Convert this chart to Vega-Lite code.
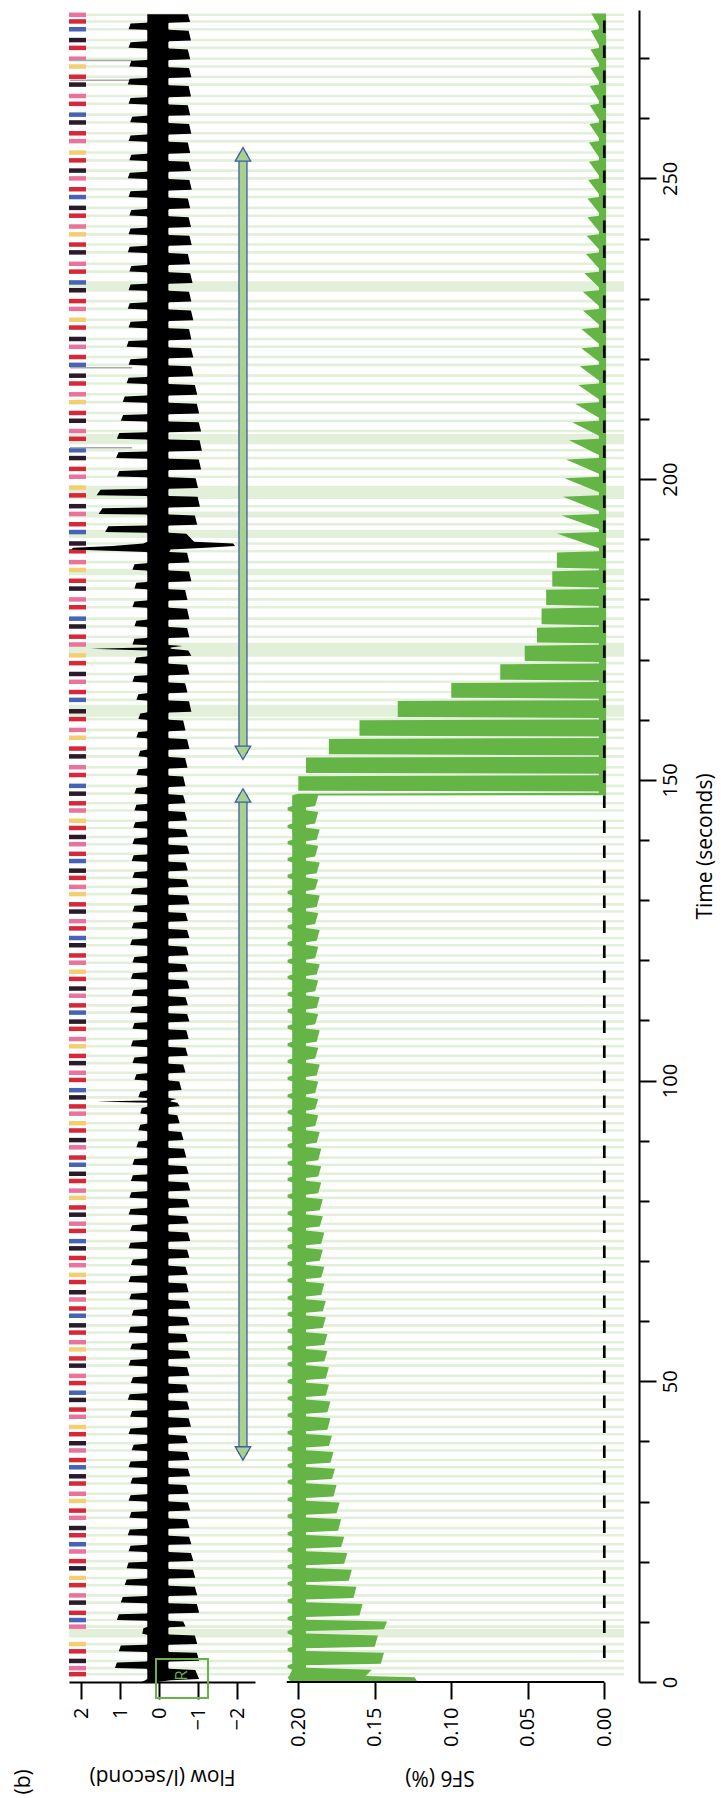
{
"$schema":"https://vega.github.io/schema/vega-lite/v6.json",
"background":"white",
"padding":{"left":13,"top":8,"right":8,"bottom":0},
"spacing":0,
"bounds":"flush",
"config":{"view":{"stroke":null},"font":"Open Sans","axis":{"labelFont":"Open Sans","titleFont":"Open Sans"},"text":{"font":"Open Sans"}},
"datasets":{
"flow":[
{"t":0,"h":0.45,"l":0.05},{"t":0.3,"h":0.35,"l":-0.3},{"t":0.5,"h":0.3,"l":-1.03},{"t":2.0,"h":0.3,"l":-0.93},
{"t":2.2,"h":0.32,"l":-0.26},{"t":2.32,"h":1.13,"l":-0.24},{"t":3.25,"h":1.08,"l":-0.24},{"t":3.4,"h":0.32,"l":-0.26},{"t":3.52,"h":0.3,"l":-1.03},{"t":4.85,"h":0.3,"l":-0.97},
{"t":5.0,"h":0.32,"l":-0.26},{"t":5.12,"h":1.03,"l":-0.24},{"t":6.05,"h":0.98,"l":-0.24},{"t":6.2,"h":0.32,"l":-0.26},{"t":6.32,"h":0.3,"l":-0.98},{"t":7.75,"h":0.3,"l":-0.92},
{"t":7.9,"h":0.32,"l":-0.26},{"t":8.02,"h":0.43,"l":-0.24},{"t":8.95,"h":0.4,"l":-0.24},{"t":9.1,"h":0.32,"l":-0.26},{"t":9.22,"h":0.3,"l":-0.68},{"t":10.05,"h":0.3,"l":-0.62},
{"t":10.2,"h":0.32,"l":-0.26},{"t":10.32,"h":1.08,"l":-0.24},{"t":11.25,"h":1.03,"l":-0.24},{"t":11.4,"h":0.32,"l":-0.26},{"t":11.52,"h":0.3,"l":-1.03},{"t":12.95,"h":0.3,"l":-0.97},
{"t":13.1,"h":0.32,"l":-0.26},{"t":13.22,"h":0.98,"l":-0.24},{"t":14.15,"h":0.93,"l":-0.24},{"t":14.3,"h":0.32,"l":-0.26},{"t":14.42,"h":0.3,"l":-0.98},{"t":15.85,"h":0.3,"l":-0.92},
{"t":16.0,"h":0.32,"l":-0.26},{"t":16.12,"h":0.88,"l":-0.24},{"t":17.05,"h":0.83,"l":-0.24},{"t":17.2,"h":0.32,"l":-0.26},{"t":17.32,"h":0.3,"l":-0.93},{"t":18.65,"h":0.3,"l":-0.87},
{"t":18.8,"h":0.32,"l":-0.26},{"t":18.92,"h":0.83,"l":-0.24},{"t":19.85,"h":0.78,"l":-0.24},{"t":20.0,"h":0.32,"l":-0.26},{"t":20.12,"h":0.3,"l":-0.88},{"t":21.45,"h":0.3,"l":-0.82},
{"t":21.6,"h":0.32,"l":-0.26},{"t":21.72,"h":0.78,"l":-0.24},{"t":22.65,"h":0.73,"l":-0.24},{"t":22.8,"h":0.32,"l":-0.26},{"t":22.92,"h":0.3,"l":-0.83},{"t":24.15,"h":0.3,"l":-0.77},
{"t":24.3,"h":0.32,"l":-0.26},{"t":24.42,"h":0.8,"l":-0.24},{"t":25.35,"h":0.75,"l":-0.24},{"t":25.5,"h":0.32,"l":-0.26},{"t":25.62,"h":0.3,"l":-0.78},{"t":27.05,"h":0.3,"l":-0.72},
{"t":27.2,"h":0.32,"l":-0.26},{"t":27.32,"h":0.76,"l":-0.24},{"t":28.25,"h":0.71,"l":-0.24},{"t":28.4,"h":0.32,"l":-0.26},{"t":28.52,"h":0.3,"l":-0.8},{"t":29.85,"h":0.3,"l":-0.74},
{"t":30.0,"h":0.32,"l":-0.26},{"t":30.12,"h":0.78,"l":-0.24},{"t":31.05,"h":0.73,"l":-0.24},{"t":31.2,"h":0.32,"l":-0.26},{"t":31.32,"h":0.3,"l":-0.76},{"t":32.75,"h":0.3,"l":-0.7},
{"t":32.9,"h":0.32,"l":-0.26},{"t":33.02,"h":0.73,"l":-0.24},{"t":33.95,"h":0.68,"l":-0.24},{"t":34.1,"h":0.32,"l":-0.26},{"t":34.22,"h":0.3,"l":-0.8},{"t":35.45,"h":0.3,"l":-0.74},
{"t":35.6,"h":0.32,"l":-0.26},{"t":35.72,"h":0.78,"l":-0.24},{"t":36.65,"h":0.73,"l":-0.24},{"t":36.8,"h":0.32,"l":-0.26},{"t":36.92,"h":0.3,"l":-0.78},{"t":38.25,"h":0.3,"l":-0.72},
{"t":38.4,"h":0.32,"l":-0.26},{"t":38.52,"h":0.7,"l":-0.24},{"t":39.45,"h":0.65,"l":-0.24},{"t":39.6,"h":0.32,"l":-0.26},{"t":39.72,"h":0.3,"l":-0.74},{"t":40.95,"h":0.3,"l":-0.68},
{"t":41.1,"h":0.32,"l":-0.26},{"t":41.22,"h":0.78,"l":-0.24},{"t":42.15,"h":0.73,"l":-0.24},{"t":42.3,"h":0.32,"l":-0.26},{"t":42.42,"h":0.3,"l":-0.82},{"t":43.85,"h":0.3,"l":-0.76},
{"t":44.0,"h":0.32,"l":-0.26},{"t":44.12,"h":0.74,"l":-0.24},{"t":45.05,"h":0.69,"l":-0.24},{"t":45.2,"h":0.32,"l":-0.26},{"t":45.32,"h":0.3,"l":-0.78},{"t":46.65,"h":0.3,"l":-0.72},
{"t":46.8,"h":0.32,"l":-0.26},{"t":46.92,"h":0.8,"l":-0.24},{"t":47.85,"h":0.75,"l":-0.24},{"t":48.0,"h":0.32,"l":-0.26},{"t":48.12,"h":0.3,"l":-0.76},{"t":49.45,"h":0.3,"l":-0.7},
{"t":49.6,"h":0.32,"l":-0.26},{"t":49.72,"h":0.72,"l":-0.24},{"t":50.65,"h":0.67,"l":-0.24},{"t":50.8,"h":0.32,"l":-0.26},{"t":50.92,"h":0.3,"l":-0.78},{"t":52.35,"h":0.3,"l":-0.72},
{"t":52.5,"h":0.32,"l":-0.26},{"t":52.62,"h":0.78,"l":-0.24},{"t":53.55,"h":0.73,"l":-0.24},{"t":53.7,"h":0.32,"l":-0.26},{"t":53.82,"h":0.3,"l":-0.8},{"t":55.05,"h":0.3,"l":-0.74},
{"t":55.2,"h":0.32,"l":-0.26},{"t":55.32,"h":0.74,"l":-0.24},{"t":56.25,"h":0.69,"l":-0.24},{"t":56.4,"h":0.32,"l":-0.26},{"t":56.52,"h":0.3,"l":-0.74},{"t":57.85,"h":0.3,"l":-0.68},
{"t":58.0,"h":0.32,"l":-0.26},{"t":58.12,"h":0.78,"l":-0.24},{"t":59.05,"h":0.73,"l":-0.24},{"t":59.2,"h":0.32,"l":-0.26},{"t":59.32,"h":0.3,"l":-0.78},{"t":60.65,"h":0.3,"l":-0.72},
{"t":60.8,"h":0.32,"l":-0.26},{"t":60.92,"h":0.7,"l":-0.24},{"t":61.85,"h":0.65,"l":-0.24},{"t":62.0,"h":0.32,"l":-0.26},{"t":62.12,"h":0.3,"l":-0.8},{"t":63.35,"h":0.3,"l":-0.74},
{"t":63.5,"h":0.32,"l":-0.26},{"t":63.62,"h":0.76,"l":-0.24},{"t":64.55,"h":0.71,"l":-0.24},{"t":64.7,"h":0.32,"l":-0.26},{"t":64.82,"h":0.3,"l":-0.76},{"t":66.25,"h":0.3,"l":-0.7},
{"t":66.4,"h":0.32,"l":-0.26},{"t":66.52,"h":0.78,"l":-0.24},{"t":67.45,"h":0.73,"l":-0.24},{"t":67.6,"h":0.32,"l":-0.26},{"t":67.72,"h":0.3,"l":-0.74},{"t":69.05,"h":0.3,"l":-0.68},
{"t":69.2,"h":0.32,"l":-0.26},{"t":69.32,"h":0.72,"l":-0.24},{"t":70.25,"h":0.67,"l":-0.24},{"t":70.4,"h":0.32,"l":-0.26},{"t":70.52,"h":0.3,"l":-0.78},{"t":71.85,"h":0.3,"l":-0.72},
{"t":72.0,"h":0.32,"l":-0.26},{"t":72.12,"h":0.78,"l":-0.24},{"t":73.05,"h":0.73,"l":-0.24},{"t":73.2,"h":0.32,"l":-0.26},{"t":73.32,"h":0.3,"l":-0.8},{"t":74.75,"h":0.3,"l":-0.74},
{"t":74.9,"h":0.32,"l":-0.26},{"t":75.02,"h":0.74,"l":-0.24},{"t":75.95,"h":0.69,"l":-0.24},{"t":76.1,"h":0.32,"l":-0.26},{"t":76.22,"h":0.3,"l":-0.76},{"t":77.45,"h":0.3,"l":-0.7},
{"t":77.6,"h":0.32,"l":-0.26},{"t":77.72,"h":0.78,"l":-0.24},{"t":78.65,"h":0.73,"l":-0.24},{"t":78.8,"h":0.32,"l":-0.26},{"t":78.92,"h":0.3,"l":-0.78},{"t":80.25,"h":0.3,"l":-0.72},
{"t":80.4,"h":0.32,"l":-0.26},{"t":80.52,"h":0.76,"l":-0.24},{"t":81.45,"h":0.71,"l":-0.24},{"t":81.6,"h":0.32,"l":-0.26},{"t":81.72,"h":0.3,"l":-0.8},{"t":83.05,"h":0.3,"l":-0.74},
{"t":83.2,"h":0.32,"l":-0.26},{"t":83.32,"h":0.72,"l":-0.24},{"t":84.25,"h":0.67,"l":-0.24},{"t":84.4,"h":0.32,"l":-0.26},{"t":84.52,"h":0.3,"l":-0.76},{"t":85.75,"h":0.3,"l":-0.7},
{"t":85.9,"h":0.32,"l":-0.26},{"t":86.02,"h":0.68,"l":-0.24},{"t":86.95,"h":0.63,"l":-0.24},{"t":87.1,"h":0.32,"l":-0.26},{"t":87.22,"h":0.3,"l":-0.7},{"t":88.65,"h":0.3,"l":-0.64},
{"t":88.8,"h":0.32,"l":-0.26},{"t":88.92,"h":0.58,"l":-0.24},{"t":89.85,"h":0.53,"l":-0.24},{"t":90.0,"h":0.32,"l":-0.26},{"t":90.12,"h":0.3,"l":-0.63},{"t":91.45,"h":0.3,"l":-0.57},
{"t":91.6,"h":0.32,"l":-0.26},{"t":91.72,"h":0.53,"l":-0.24},{"t":92.65,"h":0.48,"l":-0.24},{"t":92.8,"h":0.32,"l":-0.26},{"t":92.92,"h":0.3,"l":-0.53},{"t":94.25,"h":0.3,"l":-0.47},
{"t":94.4,"h":0.32,"l":-0.26},{"t":94.52,"h":0.48,"l":-0.24},{"t":95.45,"h":0.44,"l":-0.24},{"t":95.6,"h":0.32,"l":-0.26},{"t":95.72,"h":0.3,"l":-0.53},{"t":96.3,"h":0.3,"l":-0.47},{"t":96.5,"h":1.6,"l":-0.3},{"t":96.7,"h":0.32,"l":-0.3},{"t":96.95,"h":0.3,"l":-0.45},
{"t":97.1,"h":0.32,"l":-0.26},{"t":97.22,"h":0.53,"l":-0.24},{"t":98.15,"h":0.48,"l":-0.24},{"t":98.3,"h":0.32,"l":-0.26},{"t":98.42,"h":0.3,"l":-0.58},{"t":99.85,"h":0.3,"l":-0.52},
{"t":100.0,"h":0.32,"l":-0.26},{"t":100.12,"h":0.63,"l":-0.24},{"t":101.05,"h":0.58,"l":-0.24},{"t":101.2,"h":0.32,"l":-0.26},{"t":101.32,"h":0.3,"l":-0.68},{"t":102.65,"h":0.3,"l":-0.62},
{"t":102.8,"h":0.32,"l":-0.26},{"t":102.92,"h":0.68,"l":-0.24},{"t":103.85,"h":0.63,"l":-0.24},{"t":104.0,"h":0.32,"l":-0.26},{"t":104.12,"h":0.3,"l":-0.74},{"t":105.45,"h":0.3,"l":-0.68},
{"t":105.6,"h":0.32,"l":-0.26},{"t":105.72,"h":0.72,"l":-0.24},{"t":106.65,"h":0.67,"l":-0.24},{"t":106.8,"h":0.32,"l":-0.26},{"t":106.92,"h":0.3,"l":-0.76},{"t":108.35,"h":0.3,"l":-0.7},
{"t":108.5,"h":0.32,"l":-0.26},{"t":108.62,"h":0.68,"l":-0.24},{"t":109.55,"h":0.63,"l":-0.24},{"t":109.7,"h":0.32,"l":-0.26},{"t":109.82,"h":0.3,"l":-0.78},{"t":111.05,"h":0.3,"l":-0.72},
{"t":111.2,"h":0.32,"l":-0.26},{"t":111.32,"h":0.74,"l":-0.24},{"t":112.25,"h":0.69,"l":-0.24},{"t":112.4,"h":0.32,"l":-0.26},{"t":112.52,"h":0.3,"l":-0.74},{"t":113.85,"h":0.3,"l":-0.68},
{"t":114.0,"h":0.32,"l":-0.26},{"t":114.12,"h":0.7,"l":-0.24},{"t":115.05,"h":0.65,"l":-0.24},{"t":115.2,"h":0.32,"l":-0.26},{"t":115.32,"h":0.3,"l":-0.78},{"t":116.65,"h":0.3,"l":-0.72},
{"t":116.8,"h":0.32,"l":-0.26},{"t":116.92,"h":0.72,"l":-0.24},{"t":117.85,"h":0.67,"l":-0.24},{"t":118.0,"h":0.32,"l":-0.26},{"t":118.12,"h":0.3,"l":-0.74},{"t":119.35,"h":0.3,"l":-0.68},
{"t":119.5,"h":0.32,"l":-0.26},{"t":119.62,"h":0.68,"l":-0.24},{"t":120.55,"h":0.63,"l":-0.24},{"t":120.7,"h":0.32,"l":-0.26},{"t":120.82,"h":0.3,"l":-0.76},{"t":122.25,"h":0.3,"l":-0.7},
{"t":122.4,"h":0.32,"l":-0.26},{"t":122.52,"h":0.74,"l":-0.24},{"t":123.45,"h":0.69,"l":-0.24},{"t":123.6,"h":0.32,"l":-0.26},{"t":123.72,"h":0.3,"l":-0.78},{"t":125.05,"h":0.3,"l":-0.72},
{"t":125.2,"h":0.32,"l":-0.26},{"t":125.32,"h":0.7,"l":-0.24},{"t":126.25,"h":0.65,"l":-0.24},{"t":126.4,"h":0.32,"l":-0.26},{"t":126.52,"h":0.3,"l":-0.74},{"t":127.85,"h":0.3,"l":-0.68},
{"t":128.0,"h":0.32,"l":-0.26},{"t":128.12,"h":0.68,"l":-0.24},{"t":129.05,"h":0.63,"l":-0.24},{"t":129.2,"h":0.32,"l":-0.26},{"t":129.32,"h":0.3,"l":-0.78},{"t":130.75,"h":0.3,"l":-0.72},
{"t":130.9,"h":0.32,"l":-0.26},{"t":131.02,"h":0.72,"l":-0.24},{"t":131.95,"h":0.67,"l":-0.24},{"t":132.1,"h":0.32,"l":-0.26},{"t":132.22,"h":0.3,"l":-0.76},{"t":133.45,"h":0.3,"l":-0.7},
{"t":133.6,"h":0.32,"l":-0.26},{"t":133.72,"h":0.68,"l":-0.24},{"t":134.65,"h":0.63,"l":-0.24},{"t":134.8,"h":0.32,"l":-0.26},{"t":134.92,"h":0.3,"l":-0.74},{"t":136.25,"h":0.3,"l":-0.68},
{"t":136.4,"h":0.32,"l":-0.26},{"t":136.52,"h":0.7,"l":-0.24},{"t":137.45,"h":0.65,"l":-0.24},{"t":137.6,"h":0.32,"l":-0.26},{"t":137.72,"h":0.3,"l":-0.78},{"t":139.05,"h":0.3,"l":-0.72},
{"t":139.2,"h":0.32,"l":-0.26},{"t":139.32,"h":0.68,"l":-0.24},{"t":140.25,"h":0.63,"l":-0.24},{"t":140.4,"h":0.32,"l":-0.26},{"t":140.52,"h":0.3,"l":-0.74},{"t":141.75,"h":0.3,"l":-0.68},
{"t":141.9,"h":0.32,"l":-0.26},{"t":142.02,"h":0.66,"l":-0.24},{"t":142.95,"h":0.61,"l":-0.24},{"t":143.1,"h":0.32,"l":-0.26},{"t":143.22,"h":0.3,"l":-0.72},{"t":144.65,"h":0.3,"l":-0.66},
{"t":144.8,"h":0.32,"l":-0.26},{"t":144.92,"h":0.63,"l":-0.24},{"t":145.85,"h":0.58,"l":-0.24},{"t":146.0,"h":0.32,"l":-0.26},{"t":146.12,"h":0.3,"l":-0.68},{"t":147.45,"h":0.3,"l":-0.62},
{"t":147.6,"h":0.32,"l":-0.26},{"t":147.72,"h":0.63,"l":-0.24},{"t":148.65,"h":0.58,"l":-0.24},{"t":148.8,"h":0.32,"l":-0.26},{"t":148.92,"h":0.3,"l":-0.68},{"t":150.55,"h":0.3,"l":-0.62},
{"t":150.7,"h":0.32,"l":-0.26},{"t":150.82,"h":0.58,"l":-0.24},{"t":151.75,"h":0.53,"l":-0.24},{"t":151.9,"h":0.32,"l":-0.26},{"t":152.02,"h":0.3,"l":-0.73},{"t":153.65,"h":0.3,"l":-0.67},
{"t":153.8,"h":0.32,"l":-0.26},{"t":153.92,"h":0.53,"l":-0.24},{"t":154.85,"h":0.48,"l":-0.24},{"t":155.0,"h":0.32,"l":-0.26},{"t":155.12,"h":0.3,"l":-0.78},{"t":156.75,"h":0.3,"l":-0.72},
{"t":156.9,"h":0.32,"l":-0.26},{"t":157.02,"h":0.58,"l":-0.24},{"t":157.95,"h":0.53,"l":-0.24},{"t":158.1,"h":0.32,"l":-0.26},{"t":158.22,"h":0.3,"l":-0.68},{"t":159.85,"h":0.3,"l":-0.62},
{"t":160.0,"h":0.32,"l":-0.26},{"t":160.12,"h":0.53,"l":-0.24},{"t":161.05,"h":0.48,"l":-0.24},{"t":161.2,"h":0.32,"l":-0.26},{"t":161.32,"h":0.3,"l":-0.83},{"t":163.05,"h":0.3,"l":-0.77},
{"t":163.2,"h":0.32,"l":-0.26},{"t":163.32,"h":0.58,"l":-0.24},{"t":164.25,"h":0.53,"l":-0.24},{"t":164.4,"h":0.32,"l":-0.26},{"t":164.52,"h":0.3,"l":-0.73},{"t":166.05,"h":0.3,"l":-0.67},
{"t":166.2,"h":0.32,"l":-0.26},{"t":166.32,"h":0.68,"l":-0.24},{"t":167.25,"h":0.63,"l":-0.24},{"t":167.4,"h":0.32,"l":-0.26},{"t":167.52,"h":0.3,"l":-0.78},{"t":169.15,"h":0.3,"l":-0.72},
{"t":169.3,"h":0.32,"l":-0.26},{"t":169.42,"h":0.63,"l":-0.24},{"t":170.35,"h":0.58,"l":-0.24},{"t":170.5,"h":0.32,"l":-0.26},{"t":170.62,"h":0.3,"l":-0.83},{"t":171.5,"h":0.3,"l":-0.75},{"t":171.8,"h":1.75,"l":-0.3},{"t":172.0,"h":0.32,"l":-0.3},{"t":172.25,"h":0.3,"l":-0.6},
{"t":172.4,"h":0.32,"l":-0.26},{"t":172.52,"h":0.68,"l":-0.24},{"t":173.45,"h":0.63,"l":-0.24},{"t":173.6,"h":0.32,"l":-0.26},{"t":173.72,"h":0.3,"l":-0.78},{"t":175.25,"h":0.3,"l":-0.72},
{"t":175.4,"h":0.32,"l":-0.26},{"t":175.52,"h":0.63,"l":-0.24},{"t":176.45,"h":0.58,"l":-0.24},{"t":176.6,"h":0.32,"l":-0.26},{"t":176.72,"h":0.3,"l":-0.78},{"t":178.45,"h":0.3,"l":-0.72},
{"t":178.6,"h":0.32,"l":-0.26},{"t":178.72,"h":0.68,"l":-0.24},{"t":179.65,"h":0.63,"l":-0.24},{"t":179.8,"h":0.32,"l":-0.26},{"t":179.92,"h":0.3,"l":-0.73},{"t":181.55,"h":0.3,"l":-0.67},
{"t":181.7,"h":0.32,"l":-0.26},{"t":181.82,"h":0.63,"l":-0.24},{"t":182.75,"h":0.58,"l":-0.24},{"t":182.9,"h":0.32,"l":-0.26},{"t":183.02,"h":0.3,"l":-0.83},{"t":184.65,"h":0.3,"l":-0.77},
{"t":184.8,"h":0.32,"l":-0.26},{"t":184.92,"h":0.68,"l":-0.24},{"t":185.85,"h":0.63,"l":-0.24},{"t":186.0,"h":0.32,"l":-0.26},{"t":186.12,"h":0.3,"l":-0.78},{"t":187.75,"h":0.3,"l":-0.72},
{"t":187.9,"h":0.32,"l":-0.26},{"t":188.3,"h":2.25,"l":-0.3},{"t":188.6,"h":2.2,"l":-1.2},{"t":188.9,"h":1.2,"l":-1.95},{"t":189.3,"h":0.4,"l":-1.9},{"t":189.6,"h":0.3,"l":-0.9},{"t":190.9,"h":0.3,"l":-0.7},
{"t":191.1,"h":0.32,"l":-0.26},{"t":191.22,"h":1.38,"l":-0.24},{"t":192.15,"h":1.3,"l":-0.24},{"t":192.3,"h":0.32,"l":-0.26},{"t":192.42,"h":0.3,"l":-0.98},{"t":193.95,"h":0.3,"l":-0.92},
{"t":194.1,"h":0.32,"l":-0.26},{"t":194.22,"h":1.55,"l":-0.24},{"t":195.15,"h":1.45,"l":-0.24},{"t":195.3,"h":0.32,"l":-0.26},{"t":195.42,"h":0.3,"l":-1.05},{"t":197.05,"h":0.3,"l":-0.99},
{"t":197.2,"h":0.32,"l":-0.26},{"t":197.32,"h":1.6,"l":-0.24},{"t":198.25,"h":1.5,"l":-0.24},{"t":198.4,"h":0.32,"l":-0.26},{"t":198.52,"h":0.3,"l":-1.0},{"t":200.15,"h":0.3,"l":-0.94},
{"t":200.3,"h":0.32,"l":-0.26},{"t":200.42,"h":1.08,"l":-0.24},{"t":201.35,"h":1.02,"l":-0.24},{"t":201.5,"h":0.32,"l":-0.26},{"t":201.62,"h":0.3,"l":-1.08},{"t":203.25,"h":0.3,"l":-1.02},
{"t":203.4,"h":0.32,"l":-0.26},{"t":203.52,"h":1.1,"l":-0.24},{"t":204.45,"h":1.04,"l":-0.24},{"t":204.6,"h":0.32,"l":-0.26},{"t":204.72,"h":0.3,"l":-1.1},{"t":206.45,"h":0.3,"l":-1.04},
{"t":206.6,"h":0.32,"l":-0.26},{"t":206.72,"h":1.08,"l":-0.24},{"t":207.65,"h":1.02,"l":-0.24},{"t":207.8,"h":0.32,"l":-0.26},{"t":207.92,"h":0.3,"l":-1.08},{"t":209.45,"h":0.3,"l":-1.02},
{"t":209.6,"h":0.32,"l":-0.26},{"t":209.72,"h":0.98,"l":-0.24},{"t":210.65,"h":0.92,"l":-0.24},{"t":210.8,"h":0.32,"l":-0.26},{"t":210.92,"h":0.3,"l":-1.03},{"t":212.55,"h":0.3,"l":-0.97},
{"t":212.7,"h":0.32,"l":-0.26},{"t":212.82,"h":0.93,"l":-0.24},{"t":213.75,"h":0.88,"l":-0.24},{"t":213.9,"h":0.32,"l":-0.26},{"t":214.02,"h":0.3,"l":-0.98},{"t":215.65,"h":0.3,"l":-0.92},
{"t":215.8,"h":0.32,"l":-0.26},{"t":215.92,"h":0.83,"l":-0.24},{"t":216.85,"h":0.78,"l":-0.24},{"t":217.0,"h":0.32,"l":-0.26},{"t":217.12,"h":0.3,"l":-0.88},{"t":218.75,"h":0.3,"l":-0.82},
{"t":218.9,"h":0.32,"l":-0.26},{"t":219.02,"h":0.78,"l":-0.24},{"t":219.95,"h":0.73,"l":-0.24},{"t":220.1,"h":0.32,"l":-0.26},{"t":220.22,"h":0.3,"l":-0.88},{"t":221.75,"h":0.3,"l":-0.82},
{"t":221.9,"h":0.32,"l":-0.26},{"t":222.02,"h":0.83,"l":-0.24},{"t":222.95,"h":0.78,"l":-0.24},{"t":223.1,"h":0.32,"l":-0.26},{"t":223.22,"h":0.3,"l":-0.83},{"t":224.95,"h":0.3,"l":-0.77},
{"t":225.1,"h":0.32,"l":-0.26},{"t":225.22,"h":0.78,"l":-0.24},{"t":226.15,"h":0.73,"l":-0.24},{"t":226.3,"h":0.32,"l":-0.26},{"t":226.42,"h":0.3,"l":-0.88},{"t":228.05,"h":0.3,"l":-0.82},
{"t":228.2,"h":0.32,"l":-0.26},{"t":228.32,"h":0.8,"l":-0.24},{"t":229.25,"h":0.75,"l":-0.24},{"t":229.4,"h":0.32,"l":-0.26},{"t":229.52,"h":0.3,"l":-0.83},{"t":231.15,"h":0.3,"l":-0.77},
{"t":231.3,"h":0.32,"l":-0.26},{"t":231.42,"h":0.78,"l":-0.24},{"t":232.35,"h":0.73,"l":-0.24},{"t":232.5,"h":0.32,"l":-0.26},{"t":232.62,"h":0.3,"l":-0.86},{"t":234.25,"h":0.3,"l":-0.8},
{"t":234.4,"h":0.32,"l":-0.26},{"t":234.52,"h":0.76,"l":-0.24},{"t":235.45,"h":0.71,"l":-0.24},{"t":235.6,"h":0.32,"l":-0.26},{"t":235.72,"h":0.3,"l":-0.8},{"t":237.45,"h":0.3,"l":-0.74},
{"t":237.6,"h":0.32,"l":-0.26},{"t":237.72,"h":0.8,"l":-0.24},{"t":238.65,"h":0.75,"l":-0.24},{"t":238.8,"h":0.32,"l":-0.26},{"t":238.92,"h":0.3,"l":-0.84},{"t":240.45,"h":0.3,"l":-0.78},
{"t":240.6,"h":0.32,"l":-0.26},{"t":240.72,"h":0.78,"l":-0.24},{"t":241.65,"h":0.73,"l":-0.24},{"t":241.8,"h":0.32,"l":-0.26},{"t":241.92,"h":0.3,"l":-0.82},{"t":243.55,"h":0.3,"l":-0.76},
{"t":243.7,"h":0.32,"l":-0.26},{"t":243.82,"h":0.76,"l":-0.24},{"t":244.75,"h":0.71,"l":-0.24},{"t":244.9,"h":0.32,"l":-0.26},{"t":245.02,"h":0.3,"l":-0.8},{"t":246.65,"h":0.3,"l":-0.74},
{"t":246.8,"h":0.32,"l":-0.26},{"t":246.92,"h":0.78,"l":-0.24},{"t":247.85,"h":0.73,"l":-0.24},{"t":248.0,"h":0.32,"l":-0.26},{"t":248.12,"h":0.3,"l":-0.84},{"t":249.75,"h":0.3,"l":-0.78},
{"t":249.9,"h":0.32,"l":-0.26},{"t":250.02,"h":0.8,"l":-0.24},{"t":250.95,"h":0.75,"l":-0.24},{"t":251.1,"h":0.32,"l":-0.26},{"t":251.22,"h":0.3,"l":-0.82},{"t":252.75,"h":0.3,"l":-0.76},
{"t":252.9,"h":0.32,"l":-0.26},{"t":253.02,"h":0.76,"l":-0.24},{"t":253.95,"h":0.71,"l":-0.24},{"t":254.1,"h":0.32,"l":-0.26},{"t":254.22,"h":0.3,"l":-0.8},{"t":255.95,"h":0.3,"l":-0.74},
{"t":256.1,"h":0.32,"l":-0.26},{"t":256.22,"h":0.78,"l":-0.24},{"t":257.15,"h":0.73,"l":-0.24},{"t":257.3,"h":0.32,"l":-0.26},{"t":257.42,"h":0.3,"l":-0.83},{"t":259.05,"h":0.3,"l":-0.77},
{"t":259.2,"h":0.32,"l":-0.26},{"t":259.32,"h":0.74,"l":-0.24},{"t":260.25,"h":0.69,"l":-0.24},{"t":260.4,"h":0.32,"l":-0.26},{"t":260.52,"h":0.3,"l":-0.8},{"t":262.15,"h":0.3,"l":-0.74},
{"t":262.3,"h":0.32,"l":-0.26},{"t":262.42,"h":0.78,"l":-0.24},{"t":263.35,"h":0.73,"l":-0.24},{"t":263.5,"h":0.32,"l":-0.26},{"t":263.62,"h":0.3,"l":-0.82},{"t":265.35,"h":0.3,"l":-0.76},
{"t":265.5,"h":0.32,"l":-0.26},{"t":265.62,"h":0.8,"l":-0.24},{"t":266.55,"h":0.75,"l":-0.24},{"t":266.7,"h":0.32,"l":-0.26},{"t":266.82,"h":0.3,"l":-0.83},{"t":268.35,"h":0.3,"l":-0.77},
{"t":268.5,"h":0.32,"l":-0.26},{"t":268.62,"h":0.76,"l":-0.24},{"t":269.55,"h":0.71,"l":-0.24},{"t":269.7,"h":0.32,"l":-0.26},{"t":269.82,"h":0.3,"l":-0.8},{"t":271.45,"h":0.3,"l":-0.74},
{"t":271.6,"h":0.32,"l":-0.26},{"t":271.72,"h":0.78,"l":-0.24},{"t":272.65,"h":0.73,"l":-0.24},{"t":272.8,"h":0.32,"l":-0.26},{"t":272.92,"h":0.3,"l":-0.82},{"t":274.55,"h":0.3,"l":-0.76},
{"t":274.7,"h":0.32,"l":-0.26},{"t":274.82,"h":0.78,"l":-0.24},{"t":275.75,"h":0.73,"l":-0.24},{"t":275.9,"h":0.32,"l":-0.26},{"t":276.02,"h":0.3,"l":-0.8},{"t":277.3,"h":0.3,"l":-0.74}
],
"sf6":[
{"t":0,"h":0.205,"l":0.122},{"t":0.8,"h":0.207,"l":0.124},{"t":1.0,"h":0.206,"l":0.156},{"t":2.05,"h":0.204,"l":0.152},
{"t":2.35,"h":0.207,"l":0.195},{"t":2.8,"h":0.207,"l":0.195},{"t":3.05,"h":0.204,"l":0.146},{"t":4.85,"h":0.204,"l":0.144},
{"t":5.15,"h":0.207,"l":0.195},{"t":5.6,"h":0.207,"l":0.195},{"t":5.85,"h":0.204,"l":0.15},{"t":7.75,"h":0.204,"l":0.148},
{"t":8.05,"h":0.207,"l":0.195},{"t":8.5,"h":0.207,"l":0.195},{"t":8.75,"h":0.204,"l":0.144},{"t":10.05,"h":0.204,"l":0.142},
{"t":10.35,"h":0.207,"l":0.195},{"t":10.8,"h":0.207,"l":0.195},{"t":11.05,"h":0.204,"l":0.16},{"t":12.95,"h":0.204,"l":0.158},
{"t":13.25,"h":0.207,"l":0.195},{"t":13.7,"h":0.207,"l":0.195},{"t":13.95,"h":0.204,"l":0.164},{"t":15.85,"h":0.204,"l":0.162},
{"t":16.15,"h":0.207,"l":0.195},{"t":16.6,"h":0.207,"l":0.195},{"t":16.85,"h":0.204,"l":0.167},{"t":18.65,"h":0.204,"l":0.165},
{"t":18.95,"h":0.207,"l":0.195},{"t":19.4,"h":0.207,"l":0.195},{"t":19.65,"h":0.204,"l":0.17},{"t":21.45,"h":0.204,"l":0.168},
{"t":21.75,"h":0.207,"l":0.195},{"t":22.2,"h":0.207,"l":0.195},{"t":22.45,"h":0.204,"l":0.172},{"t":24.15,"h":0.204,"l":0.17},
{"t":24.45,"h":0.207,"l":0.195},{"t":24.9,"h":0.207,"l":0.195},{"t":25.15,"h":0.204,"l":0.174},{"t":27.05,"h":0.204,"l":0.172},
{"t":27.35,"h":0.207,"l":0.195},{"t":27.8,"h":0.207,"l":0.195},{"t":28.05,"h":0.204,"l":0.175},{"t":29.85,"h":0.204,"l":0.173},
{"t":30.15,"h":0.207,"l":0.195},{"t":30.6,"h":0.207,"l":0.195},{"t":30.85,"h":0.204,"l":0.177},{"t":32.75,"h":0.204,"l":0.175},
{"t":33.05,"h":0.207,"l":0.195},{"t":33.5,"h":0.207,"l":0.195},{"t":33.75,"h":0.204,"l":0.178},{"t":35.45,"h":0.204,"l":0.176},
{"t":35.75,"h":0.207,"l":0.195},{"t":36.2,"h":0.207,"l":0.195},{"t":36.45,"h":0.204,"l":0.179},{"t":38.25,"h":0.204,"l":0.177},
{"t":38.55,"h":0.207,"l":0.195},{"t":39.0,"h":0.207,"l":0.195},{"t":39.25,"h":0.204,"l":0.18},{"t":40.95,"h":0.204,"l":0.178},
{"t":41.25,"h":0.207,"l":0.195},{"t":41.7,"h":0.207,"l":0.195},{"t":41.95,"h":0.204,"l":0.181},{"t":43.85,"h":0.204,"l":0.179},
{"t":44.15,"h":0.207,"l":0.195},{"t":44.6,"h":0.207,"l":0.195},{"t":44.85,"h":0.204,"l":0.181},{"t":46.65,"h":0.204,"l":0.179},
{"t":46.95,"h":0.207,"l":0.195},{"t":47.4,"h":0.207,"l":0.195},{"t":47.65,"h":0.204,"l":0.182},{"t":49.45,"h":0.204,"l":0.18},
{"t":49.75,"h":0.207,"l":0.195},{"t":50.2,"h":0.207,"l":0.195},{"t":50.45,"h":0.204,"l":0.182},{"t":52.35,"h":0.204,"l":0.18},
{"t":52.65,"h":0.207,"l":0.195},{"t":53.1,"h":0.207,"l":0.195},{"t":53.35,"h":0.204,"l":0.183},{"t":55.05,"h":0.204,"l":0.181},
{"t":55.35,"h":0.207,"l":0.195},{"t":55.8,"h":0.207,"l":0.195},{"t":56.05,"h":0.204,"l":0.183},{"t":57.85,"h":0.204,"l":0.181},
{"t":58.15,"h":0.207,"l":0.195},{"t":58.6,"h":0.207,"l":0.195},{"t":58.85,"h":0.204,"l":0.184},{"t":60.65,"h":0.204,"l":0.182},
{"t":60.95,"h":0.207,"l":0.195},{"t":61.4,"h":0.207,"l":0.195},{"t":61.65,"h":0.204,"l":0.184},{"t":63.35,"h":0.204,"l":0.182},
{"t":63.65,"h":0.207,"l":0.195},{"t":64.1,"h":0.207,"l":0.195},{"t":64.35,"h":0.204,"l":0.185},{"t":66.25,"h":0.204,"l":0.183},
{"t":66.55,"h":0.207,"l":0.195},{"t":67.0,"h":0.207,"l":0.195},{"t":67.25,"h":0.204,"l":0.185},{"t":69.05,"h":0.204,"l":0.183},
{"t":69.35,"h":0.207,"l":0.195},{"t":69.8,"h":0.207,"l":0.195},{"t":70.05,"h":0.204,"l":0.186},{"t":71.85,"h":0.204,"l":0.184},
{"t":72.15,"h":0.207,"l":0.195},{"t":72.6,"h":0.207,"l":0.195},{"t":72.85,"h":0.204,"l":0.185},{"t":74.75,"h":0.204,"l":0.183},
{"t":75.05,"h":0.207,"l":0.195},{"t":75.5,"h":0.207,"l":0.195},{"t":75.75,"h":0.204,"l":0.186},{"t":77.45,"h":0.204,"l":0.184},
{"t":77.75,"h":0.207,"l":0.195},{"t":78.2,"h":0.207,"l":0.195},{"t":78.45,"h":0.204,"l":0.186},{"t":80.25,"h":0.204,"l":0.184},
{"t":80.55,"h":0.207,"l":0.195},{"t":81.0,"h":0.207,"l":0.195},{"t":81.25,"h":0.204,"l":0.187},{"t":83.05,"h":0.204,"l":0.185},
{"t":83.35,"h":0.207,"l":0.195},{"t":83.8,"h":0.207,"l":0.195},{"t":84.05,"h":0.204,"l":0.187},{"t":85.75,"h":0.204,"l":0.185},
{"t":86.05,"h":0.207,"l":0.195},{"t":86.5,"h":0.207,"l":0.195},{"t":86.75,"h":0.204,"l":0.187},{"t":88.65,"h":0.204,"l":0.185},
{"t":88.95,"h":0.207,"l":0.195},{"t":89.4,"h":0.207,"l":0.195},{"t":89.65,"h":0.204,"l":0.188},{"t":91.45,"h":0.204,"l":0.186},
{"t":91.75,"h":0.207,"l":0.195},{"t":92.2,"h":0.207,"l":0.195},{"t":92.45,"h":0.204,"l":0.189},{"t":94.25,"h":0.204,"l":0.187},
{"t":94.55,"h":0.207,"l":0.195},{"t":95.0,"h":0.207,"l":0.195},{"t":95.25,"h":0.204,"l":0.189},{"t":96.95,"h":0.204,"l":0.187},
{"t":97.25,"h":0.207,"l":0.195},{"t":97.7,"h":0.207,"l":0.195},{"t":97.95,"h":0.204,"l":0.189},{"t":99.85,"h":0.204,"l":0.187},
{"t":100.15,"h":0.207,"l":0.195},{"t":100.6,"h":0.207,"l":0.195},{"t":100.85,"h":0.204,"l":0.188},{"t":102.65,"h":0.204,"l":0.186},
{"t":102.95,"h":0.207,"l":0.195},{"t":103.4,"h":0.207,"l":0.195},{"t":103.65,"h":0.204,"l":0.189},{"t":105.45,"h":0.204,"l":0.187},
{"t":105.75,"h":0.207,"l":0.195},{"t":106.2,"h":0.207,"l":0.195},{"t":106.45,"h":0.204,"l":0.188},{"t":108.35,"h":0.204,"l":0.186},
{"t":108.65,"h":0.207,"l":0.195},{"t":109.1,"h":0.207,"l":0.195},{"t":109.35,"h":0.204,"l":0.189},{"t":111.05,"h":0.204,"l":0.187},
{"t":111.35,"h":0.207,"l":0.195},{"t":111.8,"h":0.207,"l":0.195},{"t":112.05,"h":0.204,"l":0.188},{"t":113.85,"h":0.204,"l":0.186},
{"t":114.15,"h":0.207,"l":0.195},{"t":114.6,"h":0.207,"l":0.195},{"t":114.85,"h":0.204,"l":0.189},{"t":116.65,"h":0.204,"l":0.187},
{"t":116.95,"h":0.207,"l":0.195},{"t":117.4,"h":0.207,"l":0.195},{"t":117.65,"h":0.204,"l":0.188},{"t":119.35,"h":0.204,"l":0.186},
{"t":119.65,"h":0.207,"l":0.195},{"t":120.1,"h":0.207,"l":0.195},{"t":120.35,"h":0.204,"l":0.189},{"t":122.25,"h":0.204,"l":0.187},
{"t":122.55,"h":0.207,"l":0.195},{"t":123.0,"h":0.207,"l":0.195},{"t":123.25,"h":0.204,"l":0.188},{"t":125.05,"h":0.204,"l":0.186},
{"t":125.35,"h":0.207,"l":0.195},{"t":125.8,"h":0.207,"l":0.195},{"t":126.05,"h":0.204,"l":0.189},{"t":127.85,"h":0.204,"l":0.187},
{"t":128.15,"h":0.207,"l":0.195},{"t":128.6,"h":0.207,"l":0.195},{"t":128.85,"h":0.204,"l":0.188},{"t":130.75,"h":0.204,"l":0.186},
{"t":131.05,"h":0.207,"l":0.195},{"t":131.5,"h":0.207,"l":0.195},{"t":131.75,"h":0.204,"l":0.189},{"t":133.45,"h":0.204,"l":0.187},
{"t":133.75,"h":0.207,"l":0.195},{"t":134.2,"h":0.207,"l":0.195},{"t":134.45,"h":0.204,"l":0.188},{"t":136.25,"h":0.204,"l":0.186},
{"t":136.55,"h":0.207,"l":0.195},{"t":137.0,"h":0.207,"l":0.195},{"t":137.25,"h":0.204,"l":0.189},{"t":139.05,"h":0.204,"l":0.187},
{"t":139.35,"h":0.207,"l":0.195},{"t":139.8,"h":0.207,"l":0.195},{"t":140.05,"h":0.204,"l":0.188},{"t":141.75,"h":0.204,"l":0.186},
{"t":142.05,"h":0.207,"l":0.195},{"t":142.5,"h":0.207,"l":0.195},{"t":142.75,"h":0.204,"l":0.189},{"t":144.65,"h":0.204,"l":0.187},
{"t":144.95,"h":0.207,"l":0.195},{"t":145.4,"h":0.207,"l":0.195},{"t":145.65,"h":0.204,"l":0.189},{"t":147.4,"h":0.204,"l":0.187},
{"t":147.45,"h":0.204,"l":-0.0012},{"t":147.7,"h":0.2,"l":-0.0012},{"t":147.85,"h":0.0035,"l":-0.0012},{"t":148.05,"h":0.0035,"l":-0.0012},{"t":148.2,"h":0.2,"l":-0.0012},{"t":150.6,"h":0.2,"l":-0.0012},
{"t":150.75,"h":0.0035,"l":-0.0012},{"t":151.0,"h":0.0035,"l":-0.0012},{"t":151.15,"h":0.195,"l":-0.0012},{"t":153.7,"h":0.195,"l":-0.0012},
{"t":153.85,"h":0.0035,"l":-0.0012},{"t":154.1,"h":0.0035,"l":-0.0012},{"t":154.25,"h":0.18,"l":-0.0012},{"t":156.8,"h":0.18,"l":-0.0012},
{"t":156.95,"h":0.0035,"l":-0.0012},{"t":157.2,"h":0.0035,"l":-0.0012},{"t":157.35,"h":0.16,"l":-0.0012},{"t":159.9,"h":0.16,"l":-0.0012},
{"t":160.05,"h":0.0035,"l":-0.0012},{"t":160.3,"h":0.0035,"l":-0.0012},{"t":160.45,"h":0.135,"l":-0.0012},{"t":163.1,"h":0.135,"l":-0.0012},
{"t":163.25,"h":0.0035,"l":-0.0012},{"t":163.5,"h":0.0035,"l":-0.0012},{"t":163.65,"h":0.1,"l":-0.0012},{"t":166.1,"h":0.1,"l":-0.0012},
{"t":166.25,"h":0.0035,"l":-0.0012},{"t":166.5,"h":0.0035,"l":-0.0012},{"t":166.65,"h":0.068,"l":-0.0012},{"t":169.2,"h":0.068,"l":-0.0012},
{"t":169.35,"h":0.0035,"l":-0.0012},{"t":169.6,"h":0.0035,"l":-0.0012},{"t":169.75,"h":0.052,"l":-0.0012},{"t":172.3,"h":0.052,"l":-0.0012},
{"t":172.45,"h":0.0035,"l":-0.0012},{"t":172.7,"h":0.0035,"l":-0.0012},{"t":172.85,"h":0.044,"l":-0.0012},{"t":175.3,"h":0.044,"l":-0.0012},
{"t":175.45,"h":0.0035,"l":-0.0012},{"t":175.7,"h":0.0035,"l":-0.0012},{"t":175.85,"h":0.041,"l":-0.0012},{"t":178.5,"h":0.041,"l":-0.0012},
{"t":178.65,"h":0.0035,"l":-0.0012},{"t":178.9,"h":0.0035,"l":-0.0012},{"t":179.05,"h":0.038,"l":-0.0012},{"t":181.6,"h":0.038,"l":-0.0012},
{"t":181.75,"h":0.0035,"l":-0.0012},{"t":182.0,"h":0.0035,"l":-0.0012},{"t":182.15,"h":0.034,"l":-0.0012},{"t":184.7,"h":0.034,"l":-0.0012},
{"t":184.85,"h":0.0035,"l":-0.0012},{"t":185.1,"h":0.0035,"l":-0.0012},{"t":185.25,"h":0.031,"l":-0.0012},{"t":187.8,"h":0.031,"l":-0.0012},
{"t":188.0,"h":0.0035,"l":-0.0012},{"t":188.5,"h":0.0035,"l":-0.0012},{"t":190.95,"h":0.031,"l":-0.0012},
{"t":191.2,"h":0.0035,"l":-0.0012},{"t":191.7,"h":0.0035,"l":-0.0012},{"t":193.95,"h":0.028,"l":-0.0012},
{"t":194.2,"h":0.0035,"l":-0.0012},{"t":194.7,"h":0.0035,"l":-0.0012},{"t":197.05,"h":0.027,"l":-0.0012},
{"t":197.3,"h":0.0035,"l":-0.0012},{"t":197.8,"h":0.0035,"l":-0.0012},{"t":200.15,"h":0.026,"l":-0.0012},
{"t":200.4,"h":0.0035,"l":-0.0012},{"t":200.9,"h":0.0035,"l":-0.0012},{"t":203.25,"h":0.025,"l":-0.0012},
{"t":203.5,"h":0.0035,"l":-0.0012},{"t":204.0,"h":0.0035,"l":-0.0012},{"t":206.45,"h":0.023,"l":-0.0012},
{"t":206.7,"h":0.0035,"l":-0.0012},{"t":207.2,"h":0.0035,"l":-0.0012},{"t":209.45,"h":0.021,"l":-0.0012},
{"t":209.7,"h":0.0035,"l":-0.0012},{"t":210.2,"h":0.0035,"l":-0.0012},{"t":212.55,"h":0.019,"l":-0.0012},
{"t":212.8,"h":0.0035,"l":-0.0012},{"t":213.3,"h":0.0035,"l":-0.0012},{"t":215.65,"h":0.017,"l":-0.0012},
{"t":215.9,"h":0.0035,"l":-0.0012},{"t":216.4,"h":0.0035,"l":-0.0012},{"t":218.75,"h":0.016,"l":-0.0012},
{"t":219.0,"h":0.0035,"l":-0.0012},{"t":219.5,"h":0.0035,"l":-0.0012},{"t":221.75,"h":0.015,"l":-0.0012},
{"t":222.0,"h":0.0035,"l":-0.0012},{"t":222.5,"h":0.0035,"l":-0.0012},{"t":224.95,"h":0.015,"l":-0.0012},
{"t":225.2,"h":0.0035,"l":-0.0012},{"t":225.7,"h":0.0035,"l":-0.0012},{"t":228.05,"h":0.014,"l":-0.0012},
{"t":228.3,"h":0.0035,"l":-0.0012},{"t":228.8,"h":0.0035,"l":-0.0012},{"t":231.15,"h":0.014,"l":-0.0012},
{"t":231.4,"h":0.0035,"l":-0.0012},{"t":231.9,"h":0.0035,"l":-0.0012},{"t":234.25,"h":0.013,"l":-0.0012},
{"t":234.5,"h":0.0035,"l":-0.0012},{"t":235.0,"h":0.0035,"l":-0.0012},{"t":237.45,"h":0.012,"l":-0.0012},
{"t":237.7,"h":0.0035,"l":-0.0012},{"t":238.2,"h":0.0035,"l":-0.0012},{"t":240.45,"h":0.0115,"l":-0.0012},
{"t":240.7,"h":0.0035,"l":-0.0012},{"t":241.2,"h":0.0035,"l":-0.0012},{"t":243.55,"h":0.011,"l":-0.0012},
{"t":243.8,"h":0.0035,"l":-0.0012},{"t":244.3,"h":0.0035,"l":-0.0012},{"t":246.65,"h":0.011,"l":-0.0012},
{"t":246.9,"h":0.0035,"l":-0.0012},{"t":247.4,"h":0.0035,"l":-0.0012},{"t":249.75,"h":0.0105,"l":-0.0012},
{"t":250.0,"h":0.0035,"l":-0.0012},{"t":250.5,"h":0.0035,"l":-0.0012},{"t":252.75,"h":0.01,"l":-0.0012},
{"t":253.0,"h":0.0035,"l":-0.0012},{"t":253.5,"h":0.0035,"l":-0.0012},{"t":255.95,"h":0.01,"l":-0.0012},
{"t":256.2,"h":0.0035,"l":-0.0012},{"t":256.7,"h":0.0035,"l":-0.0012},{"t":259.05,"h":0.0098,"l":-0.0012},
{"t":259.3,"h":0.0035,"l":-0.0012},{"t":259.8,"h":0.0035,"l":-0.0012},{"t":262.15,"h":0.0095,"l":-0.0012},
{"t":262.4,"h":0.0035,"l":-0.0012},{"t":262.9,"h":0.0035,"l":-0.0012},{"t":265.35,"h":0.0095,"l":-0.0012},
{"t":265.6,"h":0.0035,"l":-0.0012},{"t":266.1,"h":0.0035,"l":-0.0012},{"t":268.35,"h":0.009,"l":-0.0012},
{"t":268.6,"h":0.0035,"l":-0.0012},{"t":269.1,"h":0.0035,"l":-0.0012},{"t":271.45,"h":0.009,"l":-0.0012},
{"t":271.7,"h":0.0035,"l":-0.0012},{"t":272.2,"h":0.0035,"l":-0.0012},{"t":274.55,"h":0.0088,"l":-0.0012},
{"t":274.8,"h":0.0035,"l":-0.0012},{"t":275.3,"h":0.0035,"l":-0.0012},{"t":277.4,"h":0.0085,"l":-0.0012}
],
"bands":[
{"t":1.3,"k":0},{"t":2.3,"k":1},{"t":3.5,"k":2},{"t":5.1,"k":0},{"t":6.3,"k":3},{"t":9.2,"k":1},{"t":10.3,"k":4},{"t":11.5,"k":0},{"t":13.2,"k":2},{"t":14.4,"k":1},
{"t":16.1,"k":0},{"t":17.3,"k":3},{"t":18.9,"k":2},{"t":20.1,"k":0},{"t":21.7,"k":1},{"t":22.9,"k":4},{"t":24.4,"k":0},{"t":25.6,"k":2},{"t":27.3,"k":1},{"t":28.5,"k":0},
{"t":30.1,"k":3},{"t":31.3,"k":1},{"t":33.0,"k":0},{"t":34.2,"k":2},{"t":35.7,"k":4},{"t":36.9,"k":0},{"t":38.5,"k":1},{"t":39.7,"k":2},{"t":41.2,"k":0},{"t":42.4,"k":3},
{"t":44.1,"k":1},{"t":45.3,"k":0},{"t":46.9,"k":2},{"t":48.1,"k":4},{"t":49.7,"k":0},{"t":50.9,"k":1},{"t":52.6,"k":2},{"t":53.8,"k":0},{"t":55.3,"k":3},{"t":56.5,"k":1},
{"t":58.1,"k":0},{"t":59.3,"k":2},{"t":60.9,"k":4},{"t":62.1,"k":0},{"t":63.6,"k":1},{"t":64.8,"k":2},{"t":66.5,"k":0},{"t":67.7,"k":3},{"t":69.3,"k":1},{"t":70.5,"k":0},
{"t":72.1,"k":2},{"t":73.3,"k":4},{"t":75.0,"k":0},{"t":76.2,"k":1},{"t":77.7,"k":2},{"t":78.9,"k":0},{"t":80.5,"k":3},{"t":81.7,"k":1},{"t":83.3,"k":0},{"t":84.5,"k":2},
{"t":86.0,"k":4},{"t":87.2,"k":0},{"t":88.9,"k":1},{"t":90.1,"k":2},{"t":91.7,"k":0},{"t":92.9,"k":3},{"t":94.5,"k":1},{"t":95.7,"k":0},{"t":97.2,"k":2},{"t":98.4,"k":4},
{"t":100.1,"k":0},{"t":101.3,"k":1},{"t":102.9,"k":2},{"t":104.1,"k":0},{"t":105.7,"k":3},{"t":106.9,"k":1},{"t":108.6,"k":0},{"t":109.8,"k":2},{"t":111.3,"k":4},{"t":112.5,"k":0},
{"t":114.1,"k":1},{"t":115.3,"k":2},{"t":116.9,"k":0},{"t":118.1,"k":3},{"t":119.6,"k":1},{"t":120.8,"k":0},{"t":122.5,"k":2},{"t":123.7,"k":4},{"t":125.3,"k":0},{"t":126.5,"k":1},
{"t":128.1,"k":2},{"t":129.3,"k":0},{"t":131.0,"k":3},{"t":132.2,"k":1},{"t":133.7,"k":0},{"t":134.9,"k":2},{"t":136.5,"k":4},{"t":137.7,"k":0},{"t":139.3,"k":1},{"t":140.5,"k":2},
{"t":142.0,"k":0},{"t":143.2,"k":3},{"t":144.9,"k":1},{"t":146.1,"k":0},{"t":147.7,"k":2},{"t":149.0,"k":4},{"t":150.8,"k":0},{"t":152.1,"k":1},{"t":153.9,"k":2},{"t":155.2,"k":0},
{"t":157.0,"k":3},{"t":158.3,"k":1},{"t":160.1,"k":0},{"t":161.4,"k":2},{"t":163.3,"k":4},{"t":164.6,"k":0},{"t":166.3,"k":1},{"t":167.6,"k":2},{"t":169.4,"k":0},{"t":170.7,"k":3},
{"t":172.5,"k":1},{"t":173.8,"k":0},{"t":175.5,"k":2},{"t":176.8,"k":4},{"t":178.7,"k":0},{"t":180.0,"k":1},{"t":181.8,"k":2},{"t":183.1,"k":0},{"t":184.9,"k":3},{"t":186.2,"k":1},
{"t":188.0,"k":0},{"t":189.3,"k":2},{"t":191.2,"k":4},{"t":192.5,"k":0},{"t":194.2,"k":1},{"t":195.5,"k":2},{"t":197.3,"k":0},{"t":198.6,"k":3},{"t":200.4,"k":1},{"t":201.7,"k":0},
{"t":203.5,"k":2},{"t":204.8,"k":4},{"t":206.7,"k":0},{"t":208.0,"k":1},{"t":209.7,"k":2},{"t":211.0,"k":0},{"t":212.8,"k":3},{"t":214.1,"k":1},{"t":215.9,"k":0},{"t":217.2,"k":2},
{"t":219.0,"k":4},{"t":220.3,"k":0},{"t":222.0,"k":1},{"t":223.3,"k":2},{"t":225.2,"k":0},{"t":226.5,"k":3},{"t":228.3,"k":1},{"t":229.6,"k":0},{"t":231.4,"k":2},{"t":232.7,"k":4},
{"t":234.5,"k":0},{"t":235.8,"k":1},{"t":237.7,"k":2},{"t":239.0,"k":0},{"t":240.7,"k":3},{"t":242.0,"k":1},{"t":243.8,"k":0},{"t":245.1,"k":2},{"t":246.9,"k":4},{"t":248.2,"k":0},
{"t":250.0,"k":1},{"t":251.3,"k":2},{"t":253.0,"k":0},{"t":254.3,"k":3},{"t":256.2,"k":1},{"t":257.5,"k":0},{"t":259.3,"k":2},{"t":260.6,"k":4},{"t":262.4,"k":0},{"t":263.7,"k":1},
{"t":265.6,"k":2},{"t":266.9,"k":0},{"t":268.6,"k":3},{"t":269.9,"k":1},{"t":271.7,"k":0},{"t":273.0,"k":2},{"t":274.8,"k":4},{"t":276.1,"k":0},{"t":277.2,"k":1}
],
"thick":[{"a":7.4,"b":8.8},{"a":160.5,"b":162.5},{"a":170.8,"b":172.8},{"a":184.0,"b":185.0},{"a":190.2,"b":191.6},{"a":193.6,"b":194.6},{"a":196.7,"b":198.9},{"a":205.8,"b":207.5},{"a":231.2,"b":232.6}],
"gray":[{"t":205.2},{"t":218.5},{"t":266.3},{"t":269.6}],
"arrows":[{"a":38.0,"b":147.4},{"a":154.5,"b":254.0}],
"heads":[{"t":38.0,"d":"down"},{"t":147.4,"d":"up"},{"t":154.5,"d":"down"},{"t":254.0,"d":"up"}]
},
"hconcat":[
{
"width":186,"height":1672,
"layer":[
{"data":{"name":"bands"},"mark":{"type":"rule","color":"#e2efd9","strokeWidth":2.6},
 "encoding":{"y":{"field":"t","type":"quantitative","scale":{"domain":[0,278],"nice":false,"zero":false},"axis":null}}},
{"data":{"name":"thick"},"mark":{"type":"rect","color":"#e2efd9"},
 "encoding":{"y":{"field":"a","type":"quantitative","scale":{"domain":[0,278],"nice":false,"zero":false},"axis":null},"y2":{"field":"b"}}},
{"data":{"name":"bands"},"mark":{"type":"rule","strokeWidth":4.5},
 "encoding":{"y":{"field":"t","type":"quantitative","scale":{"domain":[0,278],"nice":false,"zero":false},"axis":null},
  "x":{"datum":2.3077,"type":"quantitative","scale":{"domain":[-2.4615,2.3077],"reverse":true,"nice":false,"zero":false}},
  "x2":{"datum":1.872},
  "color":{"field":"k","type":"nominal","scale":{"domain":[0,1,2,3,4],"range":["#d62839","#e9739a","#2a1a2a","#f2cf73","#4763b5"]},"legend":null}}},
{"data":{"name":"gray"},"mark":{"type":"rule","color":"#a8a8a8","strokeWidth":1.5},
 "encoding":{"y":{"field":"t","type":"quantitative","scale":{"domain":[0,278],"nice":false,"zero":false},"axis":null},
  "x":{"datum":2.28,"type":"quantitative","scale":{"domain":[-2.4615,2.3077],"reverse":true,"nice":false,"zero":false}},
  "x2":{"datum":0.69}}},
{"data":{"name":"flow"},"mark":{"type":"area","orient":"horizontal","color":"black","opacity":1,"interpolate":"linear"},
 "encoding":{"y":{"field":"t","type":"quantitative","scale":{"domain":[0,278],"nice":false,"zero":false},"axis":null},
  "x":{"field":"h","type":"quantitative","scale":{"domain":[-2.4615,2.3077],"reverse":true,"nice":false,"zero":false},
   "axis":{"values":[-2,-1,0,1,2],"grid":false,"domain":true,"domainColor":"black","domainWidth":2,"tickSize":17,"tickWidth":2,"tickColor":"black",
    "labelAngle":270,"labelAlign":"right","labelBaseline":"middle","labelPadding":8,"labelFontSize":20,"labelColor":"black","labelFlush":false,
    "title":"Flow (l/second)","titleAngle":180,"titleBaseline":"bottom","titleFontSize":21,"titleFontWeight":"normal","titleColor":"black","titlePadding":36}},
  "x2":{"field":"l"}}},
{"data":{"name":"arrows"},"mark":{"type":"rect","fill":"#a9d18e","stroke":"#3c5ea8","strokeWidth":1.3},
 "encoding":{"y":{"field":"a","type":"quantitative","scale":{"domain":[0,278],"nice":false,"zero":false},"axis":null},"y2":{"field":"b"},
  "x":{"datum":-2.05,"type":"quantitative","scale":{"domain":[-2.4615,2.3077],"reverse":true,"nice":false,"zero":false}},
  "x2":{"datum":-2.256}}},
{"data":{"name":"heads"},"mark":{"type":"point","filled":true,"color":"#a9d18e","stroke":"#3c5ea8","strokeWidth":1.3,"size":240,"opacity":1},
 "encoding":{"y":{"field":"t","type":"quantitative","scale":{"domain":[0,278],"nice":false,"zero":false},"axis":null},
  "x":{"datum":-2.153,"type":"quantitative","scale":{"domain":[-2.4615,2.3077],"reverse":true,"nice":false,"zero":false}},
  "shape":{"field":"d","type":"nominal","scale":{"domain":["down","up"],"range":["triangle-down","triangle-up"]},"legend":null}}},
{"data":{"values":[{}]},"mark":{"type":"rect","fillOpacity":0,"stroke":"#6ab04c","strokeWidth":2},
 "encoding":{"y":{"datum":3.82,"type":"quantitative","scale":{"domain":[0,278],"nice":false,"zero":false},"axis":null},"y2":{"datum":-2.66},
  "x":{"datum":0.077,"type":"quantitative","scale":{"domain":[-2.4615,2.3077],"reverse":true,"nice":false,"zero":false}},
  "x2":{"datum":-1.256}}},
{"data":{"values":[{}]},"mark":{"type":"text","text":"R","angle":270,"fontSize":17,"color":"#6ab04c"},
 "encoding":{"y":{"datum":1.1,"type":"quantitative","scale":{"domain":[0,278],"nice":false,"zero":false},"axis":null},
  "x":{"datum":-0.6,"type":"quantitative","scale":{"domain":[-2.4615,2.3077],"reverse":true,"nice":false,"zero":false}}}},
{"data":{"values":[{}]},"mark":{"type":"text","text":"(b)","angle":270,"fontSize":21,"color":"black"},
 "encoding":{"y":{"datum":-16.6,"type":"quantitative","scale":{"domain":[0,278],"nice":false,"zero":false},"axis":null},
  "x":{"datum":3.46,"type":"quantitative","scale":{"domain":[-2.4615,2.3077],"reverse":true,"nice":false,"zero":false}}}}
]
},
{
"width":369,"height":1672,
"layer":[
{"data":{"name":"bands"},"mark":{"type":"rule","color":"#e2efd9","strokeWidth":2.6},
 "encoding":{"y":{"field":"t","type":"quantitative","scale":{"domain":[0,278],"nice":false,"zero":false}}}},
{"data":{"name":"thick"},"mark":{"type":"rect","color":"#e2efd9"},
 "encoding":{"y":{"field":"a","type":"quantitative","scale":{"domain":[0,278],"nice":false,"zero":false}},"y2":{"field":"b"}}},
{"data":{"name":"sf6"},"mark":{"type":"area","orient":"horizontal","color":"#64b446","opacity":1,"interpolate":"linear"},
 "encoding":{
  "y":{"field":"t","type":"quantitative","scale":{"domain":[0,278],"nice":false,"zero":false},
   "axis":{"orient":"right","offset":15,"values":[0,10,20,30,40,50,60,70,80,90,100,110,120,130,140,150,160,170,180,190,200,210,220,230,240,250,260,270],
    "labelExpr":"datum.value % 50 === 0 ? datum.label : ''",
    "tickSize":{"condition":{"test":"datum.value % 50 === 0","value":17},"value":10},
    "grid":false,"domain":true,"domainColor":"black","domainWidth":2,"tickWidth":2,"tickColor":"black",
    "labelAngle":270,"labelAlign":"center","labelBaseline":"top","labelPadding":4,"labelFontSize":20,"labelColor":"black","labelFlush":false,"labelOverlap":false,
    "title":"Time (seconds)","titleAngle":270,"titleBaseline":"top","titleFontSize":21,"titleFontWeight":"normal","titleColor":"black","titlePadding":14}},
  "x":{"field":"h","type":"quantitative","scale":{"domain":[-0.01288,0.2283],"reverse":true,"nice":false,"zero":false},
   "axis":{"values":[0,0.05,0.1,0.15,0.2],"format":".2f","grid":false,"domain":false,"tickSize":17,"tickWidth":2,"tickColor":"black",
    "labelAngle":270,"labelAlign":"right","labelBaseline":"middle","labelPadding":8,"labelFontSize":20,"labelColor":"black","labelFlush":false,
    "title":"SF6 (%)","titleAngle":180,"titleBaseline":"bottom","titleFontSize":21,"titleFontWeight":"normal","titleColor":"black","titlePadding":20}},
  "x2":{"field":"l"}}},
{"data":{"values":[{}]},"mark":{"type":"rule","color":"black","strokeWidth":2.7,"strokeDash":[12.5,12.5]},
 "encoding":{"y":{"datum":4.0,"type":"quantitative","scale":{"domain":[0,278],"nice":false,"zero":false}},"y2":{"datum":278},
  "x":{"datum":0,"type":"quantitative","scale":{"domain":[-0.01288,0.2283],"reverse":true,"nice":false,"zero":false}}}},
{"data":{"values":[{}]},"mark":{"type":"rule","color":"black","strokeWidth":2},
 "encoding":{"y":{"datum":0,"type":"quantitative","scale":{"domain":[0,278],"nice":false,"zero":false}},
  "x":{"datum":0.2075,"type":"quantitative","scale":{"domain":[-0.01288,0.2283],"reverse":true,"nice":false,"zero":false}},
  "x2":{"datum":0}}}
]
}
]
}
